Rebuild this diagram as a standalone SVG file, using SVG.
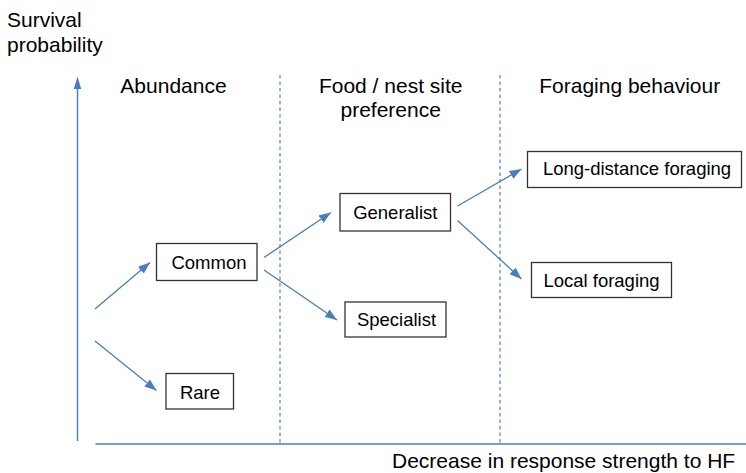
<svg xmlns="http://www.w3.org/2000/svg" width="746" height="473" viewBox="0 0 746 473">
<style>
text{font-family:"Liberation Sans",Arial,sans-serif;fill:#000}
.lbl{font-size:21px}
.hdr{font-size:21px;text-anchor:middle}
.bt{font-size:18.5px;text-anchor:middle}
.box{fill:#fff;stroke:#333;stroke-width:1.3}
.ax{stroke:#4a7ebb;stroke-width:1.4;fill:none}
.con{stroke:#4a7ebb;stroke-width:1.3;fill:none;marker-end:url(#ah)}
.dash{stroke:#7aa3d8;stroke-width:1.6;stroke-dasharray:3.5 3;fill:none}
</style>
<defs>
<marker id="ah" markerUnits="userSpaceOnUse" markerWidth="12" markerHeight="9" refX="12" refY="4.5" orient="auto">
<path d="M0,0 L12,4.5 L0,9 z" fill="#4a7ebb"/>
</marker>
</defs>
<rect width="746" height="473" fill="#fff"/>
<g id="axes">
<line class="dash" x1="280" y1="75" x2="280" y2="443"/>
<line class="dash" x1="500" y1="75" x2="500" y2="443"/>
<line class="ax" x1="95.5" y1="444" x2="746" y2="444"/>
<line class="ax" x1="77.5" y1="441" x2="77.5" y2="88"/>
<path d="M73.8,89 L77.5,76.5 L81.2,89 z" fill="#4a7ebb"/>
<text class="lbl" x="7" y="27">Survival</text>
<text class="lbl" x="7" y="52">probability</text>
<text class="lbl" x="392" y="467.5">Decrease in response strength to HF</text>
</g>
<g id="headers">
<text class="hdr" x="173.5" y="93">Abundance</text>
<text class="hdr" x="390.7" y="93.3">Food / nest site</text>
<text class="hdr" x="390.7" y="117.3">preference</text>
<text class="hdr" x="629.7" y="93">Foraging behaviour</text>
</g>
<g id="connectors">
<line class="con" x1="95" y1="309" x2="150" y2="262.5"/>
<line class="con" x1="95" y1="341" x2="156.5" y2="390.5"/>
<line class="con" x1="264" y1="257.5" x2="331" y2="212.5"/>
<line class="con" x1="264" y1="270" x2="337" y2="320"/>
<line class="con" x1="457.5" y1="206" x2="521.5" y2="169"/>
<line class="con" x1="457.5" y1="220.5" x2="521.5" y2="279"/>
</g>
<g id="common"><rect class="box" x="156.5" y="243.5" width="100.5" height="37"/><text class="bt" x="209" y="268.5">Common</text></g>
<g id="rare"><rect class="box" x="166" y="373.5" width="67.5" height="35.5"/><text class="bt" x="200" y="398.5">Rare</text></g>
<g id="generalist"><rect class="box" x="340" y="193.5" width="110.5" height="37.5"/><text class="bt" x="395.3" y="219">Generalist</text></g>
<g id="specialist"><rect class="box" x="345" y="302" width="101" height="35"/><text class="bt" x="396.5" y="326">Specialist</text></g>
<g id="long-distance"><rect class="box" x="527.5" y="151.5" width="214" height="36"/><text class="bt" x="637" y="175">Long-distance foraging</text></g>
<g id="local"><rect class="box" x="531.5" y="262.5" width="140" height="35"/><text class="bt" x="601.5" y="287">Local foraging</text></g>
</svg>
